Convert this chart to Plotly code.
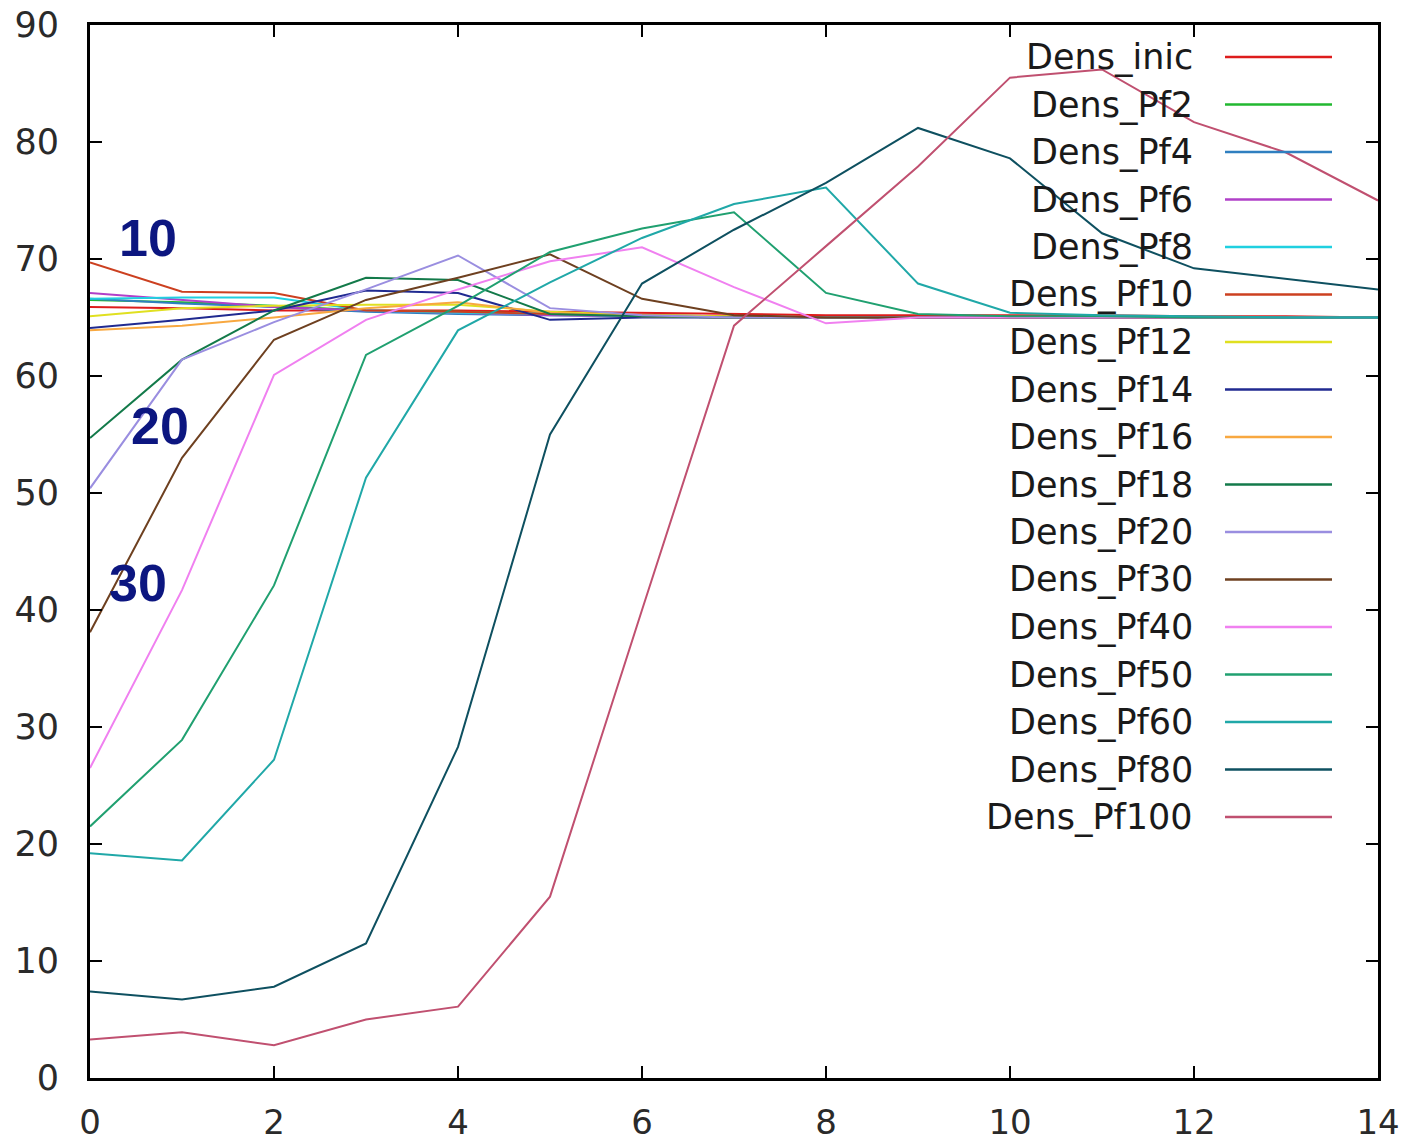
import plotly.graph_objects as go

x_vals = list(range(15))

series_names = ["Dens_inic", "Dens_Pf2", "Dens_Pf4", "Dens_Pf6", "Dens_Pf8", "Dens_Pf10",
                "Dens_Pf12", "Dens_Pf14", "Dens_Pf16", "Dens_Pf18", "Dens_Pf20", "Dens_Pf30",
                "Dens_Pf40", "Dens_Pf50", "Dens_Pf60", "Dens_Pf80", "Dens_Pf100"]

dens_inic = [65.9, 65.8, 65.6, 65.6, 65.6, 65.5, 65.4, 65.3, 65.2, 65.2, 65.2, 65.2, 65.1, 65.1, 65.0]
dens_pf2 = [66.5, 66.3, 66.0, 65.6, 65.5, 65.3, 65.2, 65.1, 65.0, 65.0, 65.0, 65.0, 65.0, 65.0, 65.0]
dens_pf4 = [66.6, 66.2, 65.9, 65.5, 65.3, 65.2, 65.1, 65.0, 65.0, 65.0, 65.0, 65.0, 65.0, 65.0, 65.0]
dens_pf6 = [67.1, 66.5, 65.9, 65.6, 65.4, 65.2, 65.1, 65.0, 65.0, 65.0, 65.0, 65.0, 65.0, 65.0, 65.0]
dens_pf8 = [66.6, 66.7, 66.7, 65.6, 65.4, 65.3, 65.1, 65.0, 65.0, 65.0, 65.0, 65.0, 65.0, 65.0, 65.0]
dens_pf10 = [69.7, 67.2, 67.1, 65.6, 65.5, 65.3, 65.2, 65.1, 65.0, 65.0, 65.0, 65.0, 65.0, 65.0, 65.0]
dens_pf12 = [65.1, 65.8, 66.0, 66.1, 66.1, 65.5, 65.2, 65.1, 65.0, 65.0, 65.0, 65.0, 65.0, 65.0, 65.0]
dens_pf14 = [64.1, 64.8, 65.6, 67.3, 67.1, 64.8, 65.0, 65.0, 65.0, 65.0, 65.0, 65.0, 65.0, 65.0, 65.0]
dens_pf16 = [63.9, 64.3, 65.0, 65.8, 66.3, 65.4, 65.1, 65.0, 65.0, 65.0, 65.0, 65.0, 65.0, 65.0, 65.0]
dens_pf18 = [54.7, 61.4, 65.6, 68.4, 68.2, 65.3, 65.1, 65.0, 65.0, 65.0, 65.0, 65.0, 65.0, 65.0, 65.0]
dens_pf20 = [50.4, 61.4, 64.6, 67.4, 70.3, 65.8, 65.2, 65.0, 65.0, 65.0, 65.0, 65.0, 65.0, 65.0, 65.0]
dens_pf30 = [38.1, 53.0, 63.1, 66.5, 68.4, 70.4, 66.6, 65.2, 65.0, 65.0, 65.0, 65.0, 65.0, 65.0, 65.0]
dens_pf40 = [26.5, 41.7, 60.1, 64.8, 67.4, 69.8, 71.0, 67.6, 64.5, 65.0, 65.0, 65.0, 65.0, 65.0, 65.0]
dens_pf50 = [21.5, 28.9, 42.1, 61.8, 66.0, 70.6, 72.6, 74.0, 67.1, 65.3, 65.1, 65.1, 65.0, 65.0, 65.0]
dens_pf60 = [19.2, 18.6, 27.2, 51.3, 63.9, 68.0, 71.8, 74.7, 76.1, 67.9, 65.4, 65.2, 65.1, 65.0, 65.0]
dens_pf80 = [7.4, 6.7, 7.8, 11.5, 28.3, 55.0, 67.9, 72.5, 76.5, 81.2, 78.6, 72.2, 69.2, 68.3, 67.4]
dens_pf100 = [3.3, 3.9, 2.8, 5.0, 6.1, 15.5, 40.0, 64.3, 71.1, 77.9, 85.5, 86.2, 81.7, 79.1, 75.0]

series_values = [dens_inic, dens_pf2, dens_pf4, dens_pf6, dens_pf8, dens_pf10, dens_pf12,
                 dens_pf14, dens_pf16, dens_pf18, dens_pf20, dens_pf30, dens_pf40, dens_pf50,
                 dens_pf60, dens_pf80, dens_pf100]

colors = ["#dd1c1c", "#22b830", "#2f7fc0", "#b040c8", "#20d0e0", "#cc4020", "#e0e020",
          "#202a90", "#f8a840", "#137a4a", "#9a8ee0", "#6e4020", "#f080f0", "#20a070",
          "#20a8a8", "#0e5060", "#c05070"]

label_texts = ["10", "12", "20", "30"]
label_x = [0.63, -0.46, 0.76, 0.52]
label_y = [71.8, 66.3, 55.7, 42.3]

x_ticks = [0, 2, 4, 6, 8, 10, 12, 14]
y_ticks = [0, 10, 20, 30, 40, 50, 60, 70, 80, 90]

fig = go.Figure()
for name, vals, col in zip(series_names, series_values, colors):
    fig.add_trace(go.Scatter(x=x_vals, y=vals, mode="lines", name=name,
                             line=dict(color=col, width=2), showlegend=False))

# custom legend (gnuplot style: text right-aligned, sample line to the right)
W_PLOT = 1288.0
H_PLOT = 1053.0
annotations = []
shapes = []
for i, (name, col) in enumerate(zip(series_names, colors)):
    py = 57 + i * 47.5
    yp = (1078 - py) / H_PLOT
    annotations.append(dict(text=name, x=(1195 - 90) / W_PLOT, y=yp, xref="paper", yref="paper",
                            xanchor="right", yanchor="middle", showarrow=False,
                            font=dict(family="DejaVu Sans", size=35, color="#1a1a1a")))
    shapes.append(dict(type="line", xref="paper", yref="paper",
                       x0=(1225 - 90) / W_PLOT, x1=(1332 - 90) / W_PLOT, y0=yp, y1=yp,
                       line=dict(color=col, width=2.5)))

for t, lx, ly in zip(label_texts, label_x, label_y):
    annotations.append(dict(text="<b>%s</b>" % t, x=lx, y=ly, xref="x", yref="y",
                            showarrow=False, xanchor="center", yanchor="middle",
                            font=dict(family="Liberation Sans, Arial", size=52, color="#0c1680")))

fig.update_layout(
    width=1406, height=1143,
    margin=dict(l=90, r=28, t=25, b=65, autoexpand=False),
    paper_bgcolor="white", plot_bgcolor="white",
    annotations=annotations, shapes=shapes,
    showlegend=False,
)
fig.update_xaxes(range=[0, 14], tickvals=x_ticks, ticks="inside", ticklen=12, tickwidth=2,
                 tickcolor="black", showline=True, linecolor="black", linewidth=3,
                 mirror="ticks", showgrid=False, zeroline=False, automargin=False,
                 tickfont=dict(family="DejaVu Sans", size=34, color="#2a2a2a"),
                 ticklabelstandoff=12)
fig.update_yaxes(range=[0, 90], tickvals=y_ticks, ticks="inside", ticklen=12, tickwidth=2,
                 tickcolor="black", showline=True, linecolor="black", linewidth=3,
                 mirror="ticks", showgrid=False, zeroline=False, automargin=False,
                 tickfont=dict(family="DejaVu Sans", size=35, color="#2a2a2a"),
                 ticklabelstandoff=21)

fig.write_html("out.html")
